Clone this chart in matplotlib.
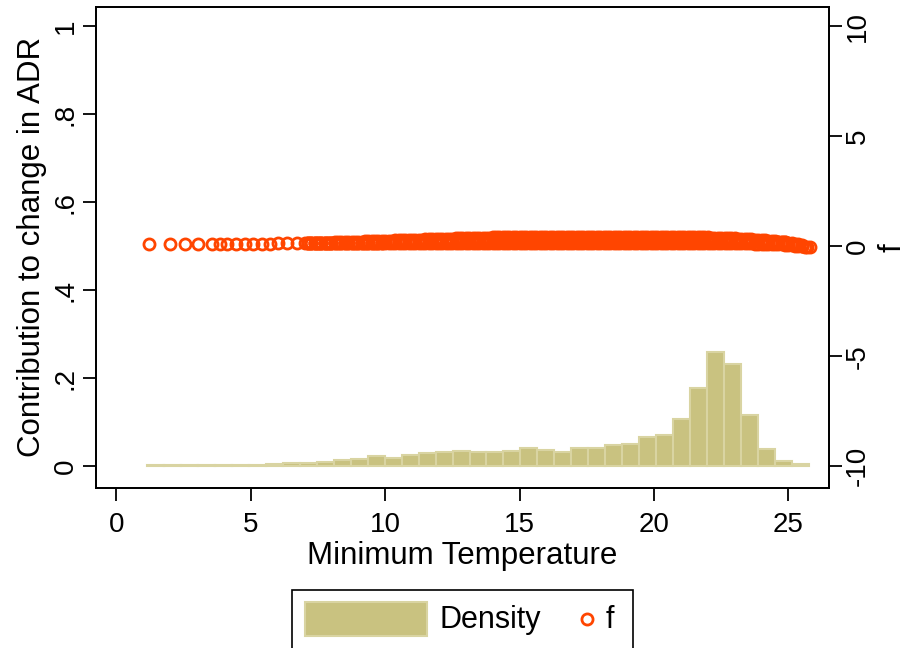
import matplotlib
matplotlib.use("Agg")
import matplotlib.pyplot as plt
from matplotlib.patches import Rectangle
from matplotlib.lines import Line2D

plt.rcParams["font.family"] = ["Liberation Sans", "DejaVu Sans"]

# Histogram of minimum temperature (density per bin)
bin_start = 1.15
bin_width = 0.631
density = [0.003, 0.002, 0.002, 0.002, 0.003, 0.003, 0.003, 0.004, 0.006, 0.007,
           0.009, 0.013, 0.017, 0.022, 0.019, 0.024, 0.029, 0.032, 0.035, 0.031,
           0.033, 0.035, 0.042, 0.036, 0.033, 0.042, 0.040, 0.047, 0.050, 0.067,
           0.071, 0.106, 0.178, 0.260, 0.231, 0.115, 0.038, 0.011, 0.004]

# Sparse low-temperature observations of f
temp_sparse = [1.23, 2.00, 2.55, 3.05, 3.56, 3.84, 4.11, 4.46, 4.80, 5.10,
               5.42, 5.72, 6.03, 6.34, 6.72, 7.03]
f_sparse = [0.10, 0.10, 0.10, 0.10, 0.10, 0.10, 0.11, 0.11, 0.11, 0.12,
            0.12, 0.12, 0.13, 0.13, 0.13, 0.14]

# Dense observations from 7 to 25.5 degrees: upper, middle and lower part of the band
temp_dense = [
    7.125, 7.25, 7.375, 7.5, 7.625, 7.75, 7.875,
    8.0, 8.125, 8.25, 8.375, 8.5, 8.625, 8.75, 8.875,
    9.0, 9.125, 9.25, 9.375, 9.5, 9.625, 9.75, 9.875,
    10.0, 10.125, 10.25, 10.375, 10.5, 10.625, 10.75, 10.875,
    11.0, 11.125, 11.25, 11.375, 11.5, 11.625, 11.75, 11.875,
    12.0, 12.125, 12.25, 12.375, 12.5, 12.625, 12.75, 12.875,
    13.0, 13.125, 13.25, 13.375, 13.5, 13.625, 13.75, 13.875,
    14.0, 14.125, 14.25, 14.375, 14.5, 14.625, 14.75, 14.875,
    15.0, 15.125, 15.25, 15.375, 15.5, 15.625, 15.75, 15.875,
    16.0, 16.125, 16.25, 16.375, 16.5, 16.625, 16.75, 16.875,
    17.0, 17.125, 17.25, 17.375, 17.5, 17.625, 17.75, 17.875,
    18.0, 18.125, 18.25, 18.375, 18.5, 18.625, 18.75, 18.875,
    19.0, 19.125, 19.25, 19.375, 19.5, 19.625, 19.75, 19.875,
    20.0, 20.125, 20.25, 20.375, 20.5, 20.625, 20.75, 20.875,
    21.0, 21.125, 21.25, 21.375, 21.5, 21.625, 21.75, 21.875,
    22.0, 22.125, 22.25, 22.375, 22.5, 22.625, 22.75, 22.875,
    23.0, 23.125, 23.25, 23.375, 23.5, 23.625, 23.75, 23.875,
    24.0, 24.125, 24.25, 24.375, 24.5, 24.625, 24.75, 24.875,
    25.0, 25.125, 25.25, 25.375, 25.5,
]
f_upper = (
    [0.135, 0.14, 0.145, 0.15, 0.155, 0.16, 0.165]
    + [0.17, 0.175, 0.18, 0.185, 0.19, 0.195, 0.20, 0.205]
    + [0.21, 0.215, 0.22, 0.225, 0.23, 0.235, 0.24, 0.245]
    + [0.25, 0.255, 0.26, 0.265, 0.27, 0.275, 0.28, 0.285]
    + [0.29, 0.295, 0.30, 0.305, 0.31, 0.315, 0.32, 0.325]
    + [0.33, 0.335, 0.34, 0.345, 0.35, 0.355, 0.36, 0.365]
    + [0.37, 0.374, 0.378, 0.382, 0.386, 0.39, 0.394, 0.397]
    + [0.40, 0.402, 0.405, 0.407, 0.41, 0.412, 0.415, 0.417]
    + [0.42, 0.421, 0.423, 0.424, 0.425, 0.426, 0.428, 0.429]
    + [0.43] * 32
    + [0.42, 0.42, 0.42, 0.42, 0.418, 0.416, 0.414, 0.412]
    + [0.41, 0.41, 0.408, 0.406, 0.405, 0.404, 0.402, 0.401]
    + [0.40, 0.395, 0.39, 0.385, 0.38, 0.375, 0.37, 0.365]
    + [0.36, 0.35, 0.34, 0.33, 0.32, 0.31, 0.30, 0.29]
    + [0.28, 0.265, 0.25, 0.235, 0.22, 0.205, 0.19, 0.175]
    + [0.16, 0.14, 0.12, 0.09, 0.05]
)
f_middle = (
    [0.13] * 7
    + [0.15] * 8
    + [0.17] * 8
    + [0.19] * 8
    + [0.22] * 8
    + [0.24] * 8
    + [0.26] * 8
    + [0.27] * 8
    + [0.28] * 8
    + [0.29] * 32
    + [0.28] * 8
    + [0.28] * 8
    + [0.27] * 8
    + [0.25] * 8
    + [0.20] * 8
    + [0.12, 0.10, 0.08, 0.05, 0.02]
)
f_lower = (
    [0.13] * 7
    + [0.13] * 8
    + [0.14] * 8
    + [0.14] * 8
    + [0.15] * 88
    + [0.145] * 8
    + [0.14, 0.14, 0.135, 0.135, 0.13, 0.13, 0.125, 0.12]
    + [0.115, 0.11, 0.105, 0.10, 0.095, 0.09, 0.085, 0.08]
    + [0.07, 0.05, 0.03, 0.01, -0.01]
)

# Highest-temperature observations
temp_tail = [25.6, 25.7, 25.8]
f_tail = [-0.02, -0.04, -0.05]

x_ticks = [0, 5, 10, 15, 20, 25]
left_ticks = [0, 0.2, 0.4, 0.6, 0.8, 1.0]
left_labels = ["0", ".2", ".4", ".6", ".8", "1"]
right_ticks = [-10, -5, 0, 5, 10]
right_labels = ["-10", "-5", "0", "5", "10"]

BAR_FACE = "#c9c280"
BAR_EDGE = "#d9d4a2"
MARK = "#ff4500"
W, H = 907, 648

fig = plt.figure(figsize=(W / 100, H / 100), dpi=100)
ax = fig.add_axes([96 / W, 1 - 488 / H, (829 - 96) / W, (488 - 6.5) / H])
ax2 = ax.twinx()

lefts = [bin_start + i * bin_width for i in range(len(density))]
ax.bar(lefts, density, width=bin_width, align="edge", color=BAR_FACE,
       edgecolor=BAR_EDGE, linewidth=1.5, zorder=2)

mk = dict(linestyle="none", marker="o", markersize=8.0, markerfacecolor="none",
          markeredgecolor=MARK, markeredgewidth=2.0)
ax2.plot(temp_sparse, f_sparse, **mk)
ax2.plot(temp_dense, f_upper, **mk)
ax2.plot(temp_dense, f_middle, **mk)
ax2.plot(temp_dense, f_lower, **mk)
ax2.plot(temp_tail, f_tail, **mk)

ax.set_xlim(-0.755, 26.51)
ax.set_ylim(-0.050, 1.0455)
ax2.set_ylim(-11.0, 10.91)

for a in (ax, ax2):
    for s in a.spines.values():
        s.set_linewidth(1.3)
        s.set_color("black")

ax.set_xticks(x_ticks)
ax.set_xticklabels([str(t) for t in x_ticks])
ax.set_yticks(left_ticks)
ax.set_yticklabels(left_labels, rotation=90, va="center")
ax2.set_yticks(right_ticks)
ax2.set_yticklabels(right_labels, rotation=90, va="center")

ax.tick_params(axis="both", direction="out", length=9.5, width=1.3,
               labelsize=20, pad=3)
ax.tick_params(axis="x", pad=8)
ax2.tick_params(axis="y", direction="out", length=9.5, width=1.3,
                labelsize=20, pad=2)

ax.set_xlabel("Minimum Temperature", fontsize=22.5, labelpad=2)
ax.set_ylabel("Contribution to change in ADR", fontsize=22.5, labelpad=4)
ax2.set_ylabel("f", fontsize=22.5, rotation=90, labelpad=5)

# Legend box at the bottom
tf = fig.transFigure
def fx(px):
    return px / W
def fy(py):
    return 1 - py / H

fig.add_artist(Rectangle((fx(292), fy(662)), fx(633) - fx(292), fy(589.5) - fy(662),
                         transform=tf, facecolor="white", edgecolor="black",
                         linewidth=1.2))
fig.add_artist(Rectangle((fx(305), fy(636)), fx(427) - fx(305), fy(602) - fy(636),
                         transform=tf, facecolor=BAR_FACE, edgecolor=BAR_EDGE,
                         linewidth=1.5))
fig.text(fx(440), fy(620), "Density", fontsize=22, ha="left", va="center")
fig.add_artist(Line2D([fx(587)], [fy(619)], transform=tf, **mk))
fig.text(fx(606), fy(620), "f", fontsize=22, ha="left", va="center")

fig.savefig("out.png", dpi=100, facecolor="white")
